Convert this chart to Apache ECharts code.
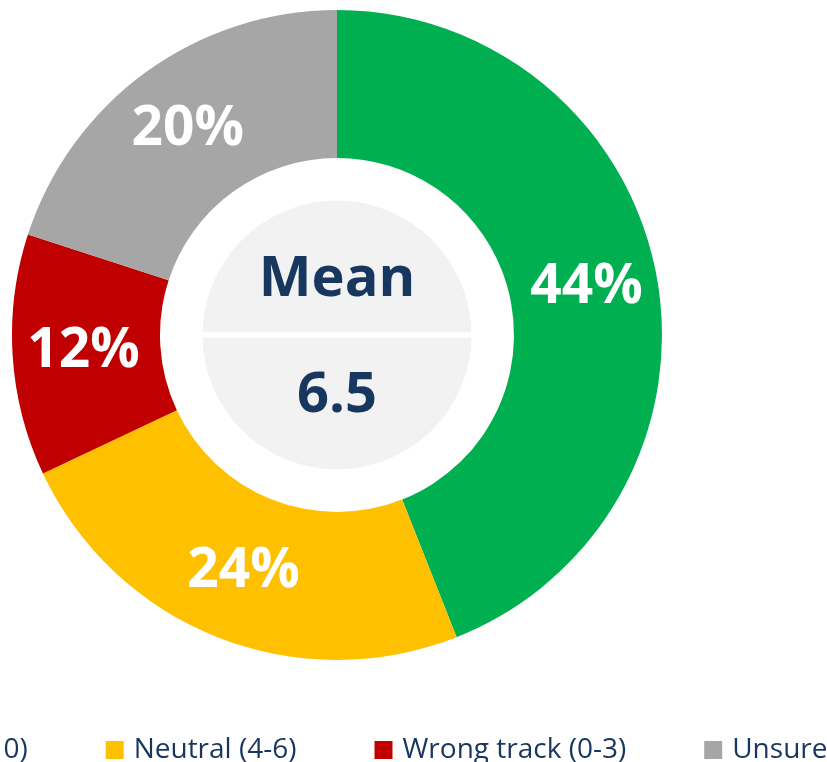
<!DOCTYPE html>
<html>
<head>
<meta charset="utf-8">
<script src="https://cdn.jsdelivr.net/npm/echarts@6/dist/echarts.min.js"></script>
<style>
  html, body { margin: 0; padding: 0; background: #ffffff; }
  #chart { width: 827px; height: 762px; }
</style>
</head>
<body>
<div id="chart"></div>
<script>
// Survey answer groups and their shares (%)
const categories = ['Right direction (7-10)', 'Neutral (4-6)', 'Wrong track (0-3)', 'Unsure'];
const shares = [44, 24, 12, 20];
const sliceColors = ['#00b050', '#ffc000', '#c00000', '#a6a6a6'];

// Centre disc: caption on top, mean score below
const centerLabels = ['Mean', '6.5'];

const navy = '#17375e';
const fontFamily = '"Open Sans", "Noto Sans", sans-serif';

const chart = echarts.init(document.getElementById('chart'), null, { renderer: 'canvas' });

chart.setOption({
  animation: false,
  backgroundColor: '#ffffff',
  legend: {
    data: categories,
    orient: 'horizontal',
    left: -276,
    top: 731,
    width: 1300,
    icon: 'rect',
    itemWidth: 18,
    itemHeight: 18,
    itemGap: 78,
    selectedMode: false,
    textStyle: {
      color: navy,
      fontSize: 28,
      fontFamily: fontFamily,
      padding: [0, 0, 0, 5]
    }
  },
  series: [
    {
      type: 'pie',
      name: 'Shares',
      center: [337, 335],
      radius: [177, 325],
      startAngle: 90,
      clockwise: true,
      silent: true,
      label: {
        show: true,
        position: 'inside',
        formatter: '{c}%',
        color: '#ffffff',
        fontSize: 55,
        fontWeight: 'bold',
        fontFamily: fontFamily
      },
      labelLine: { show: false },
      data: categories.map((name, i) => ({
        name: name,
        value: shares[i],
        itemStyle: { color: sliceColors[i] }
      }))
    },
    {
      type: 'pie',
      name: 'Centre',
      center: [337, 335],
      radius: [0, 137],
      startAngle: 180,
      clockwise: true,
      silent: true,
      legendHoverLink: false,
      itemStyle: {
        color: '#f2f2f2',
        borderColor: '#ffffff',
        borderWidth: 5
      },
      label: {
        show: true,
        position: 'inside',
        formatter: '{b}',
        color: navy,
        fontSize: 56,
        fontWeight: 'bold',
        fontFamily: fontFamily
      },
      labelLine: { show: false },
      data: [
        { name: centerLabels[0], value: 1, label: { offset: [0, 17] } },
        { name: centerLabels[1], value: 1, label: { offset: [0, -10] } }
      ]
    }
  ]
});
</script>
</body>
</html>
